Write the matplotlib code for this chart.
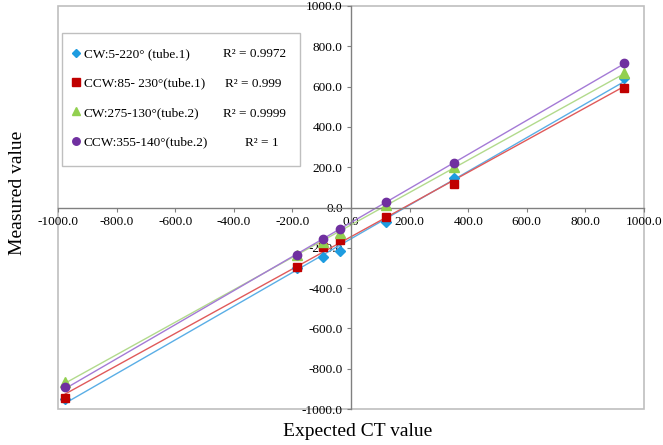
import numpy as np
import matplotlib
matplotlib.use("Agg")
import matplotlib.pyplot as plt
from matplotlib.patches import Rectangle
from matplotlib.lines import Line2D

plt.rcParams['font.family'] = ['Liberation Serif', 'DejaVu Serif']

expected = [-975, -184, -96, -38, 119, 350, 932]
cw1 = [-950, -300, -248, -218, -70, 145, 645]
ccw1 = [-943, -293, -196, -159, -45, 115, 592]
cw2 = [-864, -236, -170, -128, 12, 200, 668]
ccw2 = [-893, -238, -154, -109, 25, 220, 718]

names = ["CW:5-220° (tube.1)", "CCW:85- 230°(tube.1)", "CW:275-130°(tube.2)", "CCW:355-140°(tube.2)"]
r2 = ["R² = 0.9972", "R² = 0.999", "R² = 0.9999", "R² = 1"]
series = [cw1, ccw1, cw2, ccw2]
markers = ['D', 's', '^', 'o']
msizes = [5, 6, 6.5, 6]
mcolors = ['#1E9CE0', '#C00000', '#92D050', '#7030A0']
lcolors = ['#5AAEE6', '#E05A5A', '#B2DA8C', '#A47AD6']

W, H = 663, 445
fig = plt.figure(figsize=(W/100, H/100), dpi=100)
ax = fig.add_axes([58/W, 1-409/H, 586/W, 403/H])
ax.set_xlim(-1000, 1000)
ax.set_ylim(-1000, 1000)

x = np.array(expected, dtype=float)
for ys, m, ms, mc, lc in zip(series, markers, msizes, mcolors, lcolors):
    ys = np.array(ys, dtype=float)
    k, b = np.polyfit(x, ys, 1)
    xx = np.array([x.min(), x.max()])
    ax.plot(xx, k*xx + b, color=lc, lw=1.0, zorder=2)
    ax.plot(x, ys, linestyle='none', marker=m, ms=ms, color=mc, mec=mc, zorder=3)

for s in ['top', 'right']:
    ax.spines[s].set_visible(False)
ax.spines['left'].set_position(('data', 0))
ax.spines['bottom'].set_position(('data', 0))
for s in ['left', 'bottom']:
    ax.spines[s].set_color('#808080')
    ax.spines[s].set_linewidth(1.0)
ax.add_patch(Rectangle((0, 0), 1, 1, transform=ax.transAxes, fill=False,
                       edgecolor='#BFBFBF', lw=1.2, clip_on=False, zorder=0))

ticks = np.arange(-1000, 1001, 200)
ax.set_xticks(ticks)
ax.set_yticks(ticks)
ax.set_xticklabels([f"{t:.1f}" for t in ticks])
ax.set_yticklabels([f"{t:.1f}" for t in ticks])
ax.tick_params(axis='both', direction='out', length=3, color='#808080',
               labelsize=9.5, pad=3)

fig.text(18/W, 1-193/H, "Measured value", rotation=90, ha='center', va='center', fontsize=14)
fig.text(358/W, 1-432/H, "Expected CT value", ha='center', va='center', fontsize=14)

# legend box
fig.patches.append(Rectangle((62/W, 1-166/H), 238/W, 133/H, transform=fig.transFigure,
                             facecolor='white', edgecolor='#BFBFBF', lw=1.0, zorder=5))
handles = [Line2D([], [], linestyle='none', marker=m, ms=ms*0.9, color=mc)
           for m, ms, mc in zip(markers, msizes, mcolors)]
leg = fig.legend(handles, names, loc='upper left', bbox_to_anchor=(72/W, 1-48/H),
                 frameon=False, fontsize=9.5, handlelength=0.6, handletextpad=0.3,
                 labelspacing=1.3, borderpad=0, borderaxespad=0)
leg.set_zorder(6)
r2x = [223, 225, 223, 245]
r2y = [54, 84, 114, 143]
for t, px, py in zip(r2, r2x, r2y):
    fig.text(px/W, 1-py/H, t, fontsize=9.5, ha='left', va='center', zorder=7)

fig.savefig("out.png", dpi=100)
